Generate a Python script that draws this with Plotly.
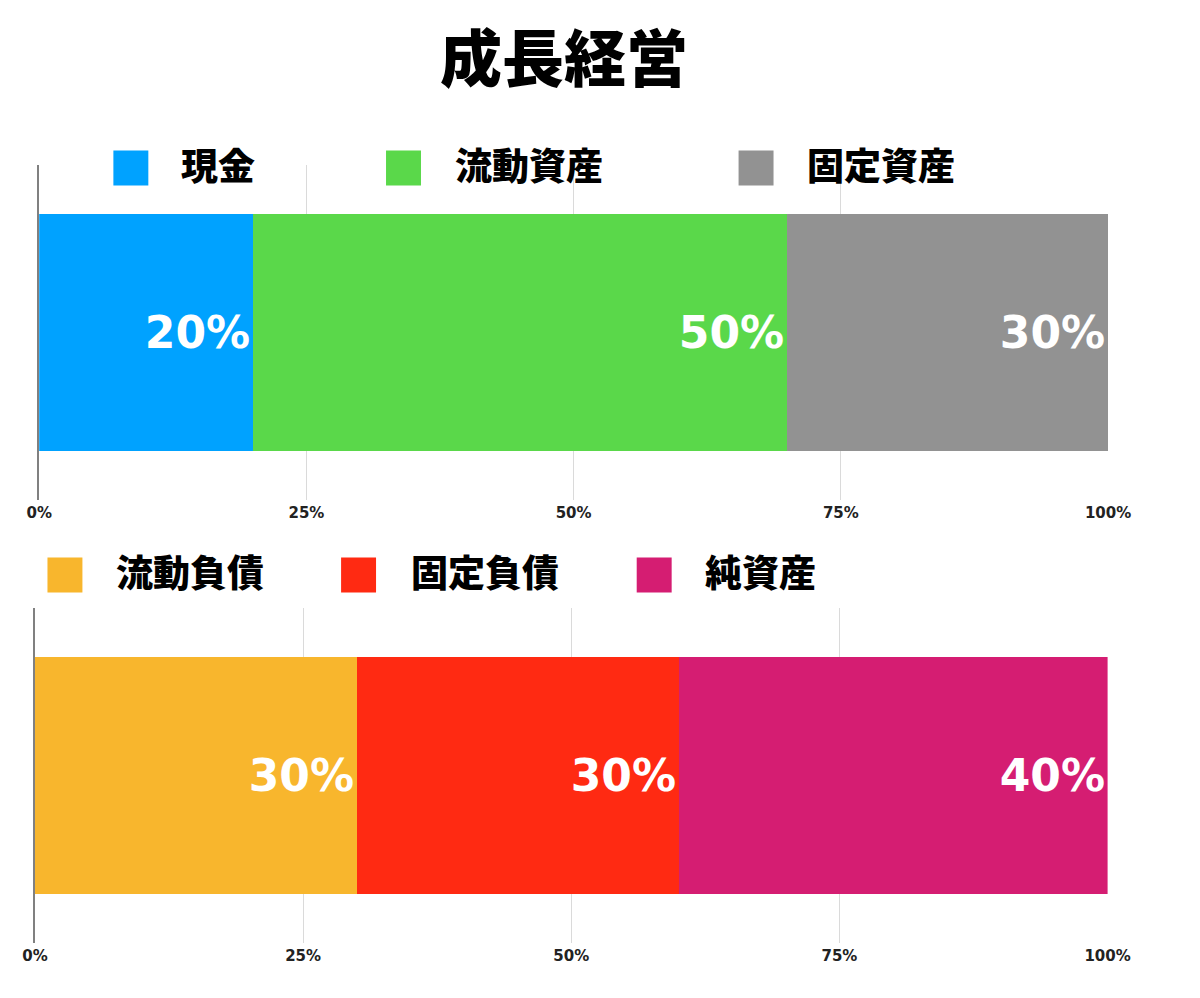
import plotly.graph_objects as go
from plotly.subplots import make_subplots

title = "成長経営"

# 資産の部
asset_names = ["現金", "流動資産", "固定資産"]
asset_values = [20, 50, 30]
asset_colors = ["#00a2ff", "#5ad84a", "#929292"]

# 負債・純資産の部
liab_names = ["流動負債", "固定負債", "純資産"]
liab_values = [30, 30, 40]
liab_colors = ["#f8b62d", "#ff2a12", "#d51d72"]

tick_vals = [0, 25, 50, 75, 100]
tick_text = ["0%", "25%", "50%", "75%", "100%"]

W, H = 1200, 998
JP = "Noto Sans CJK JP"
NUM = "DejaVu Sans"

# the page ends up drawn ~1166px wide from x=19.5 and 8px down, so map target pixels
def fx(px):
    return (px - 19.5) / 1165.5

def fy(py):
    return 1 - (py - 8) / H

fig = make_subplots(rows=2, cols=1)

for row, names, vals, cols in [(1, asset_names, asset_values, asset_colors),
                               (2, liab_names, liab_values, liab_colors)]:
    for n, v, c in zip(names, vals, cols):
        fig.add_trace(go.Bar(
            x=[v], y=[""], name=n, orientation="h",
            marker=dict(color=c, line=dict(width=0)),
            width=0.706,
            text=[f"{v}%"], textposition="inside", insidetextanchor="end",
            textfont=dict(family=NUM, size=44, color="white", weight="bold"),
            showlegend=False, hoverinfo="skip",
        ), row=row, col=1)

# plot areas in target pixels
doms = {1: dict(x=(37.7, 1108), y=(165, 500)), 2: dict(x=(33.5, 1107.5), y=(608, 943))}
for row in (1, 2):
    d = doms[row]
    fig.update_xaxes(
        domain=[fx(d["x"][0]), fx(d["x"][1])], range=[0, 100],
        tickvals=tick_vals, ticktext=tick_text,
        showgrid=True, gridcolor="#dadada", gridwidth=1, zeroline=False,
        tickfont=dict(family=NUM, size=15, color="#222", weight="bold"),
        ticklabelstandoff=2, showline=False,
        row=row, col=1)
    fig.update_yaxes(
        domain=[fy(d["y"][1]), fy(d["y"][0])], range=[-0.5, 0.5],
        showticklabels=False, showgrid=False, zeroline=False,
        showline=True, linecolor="#808080", linewidth=2,
        row=row, col=1)

# legends drawn as squares and labels
shapes, annos = [], []
legend_rows = [
    (asset_names, asset_colors, [112, 385, 738], [178, 452, 805], 168),
    (liab_names, liab_colors, [46, 340, 636], [113, 408, 702], 575),
]
for names, cols, xs, txs, yc in legend_rows:
    for n, c, x0, tx in zip(names, cols, xs, txs):
        shapes.append(dict(type="rect", xref="paper", yref="paper",
                           x0=fx(x0), x1=fx(x0 + 35),
                           y0=fy(yc + 17.5), y1=fy(yc - 17.5),
                           fillcolor=c, line=dict(width=0)))
        annos.append(dict(text=n, xref="paper", yref="paper",
                          x=fx(tx), y=fy(yc - 4),
                          xanchor="left", yanchor="middle", showarrow=False,
                          font=dict(family=JP, size=37, color="black", weight=900)))

annos.append(dict(text=title, xref="paper", yref="paper", x=fx(563), y=fy(55),
                  xanchor="center", yanchor="middle", showarrow=False,
                  font=dict(family=JP, size=62, color="black", weight=900)))

fig.update_layout(
    width=W, height=H, margin=dict(l=0, r=0, t=0, b=0),
    paper_bgcolor="white", plot_bgcolor="white",
    barmode="stack", bargap=0, showlegend=False,
    shapes=shapes, annotations=annos,
)

fig.write_html("out.html")
